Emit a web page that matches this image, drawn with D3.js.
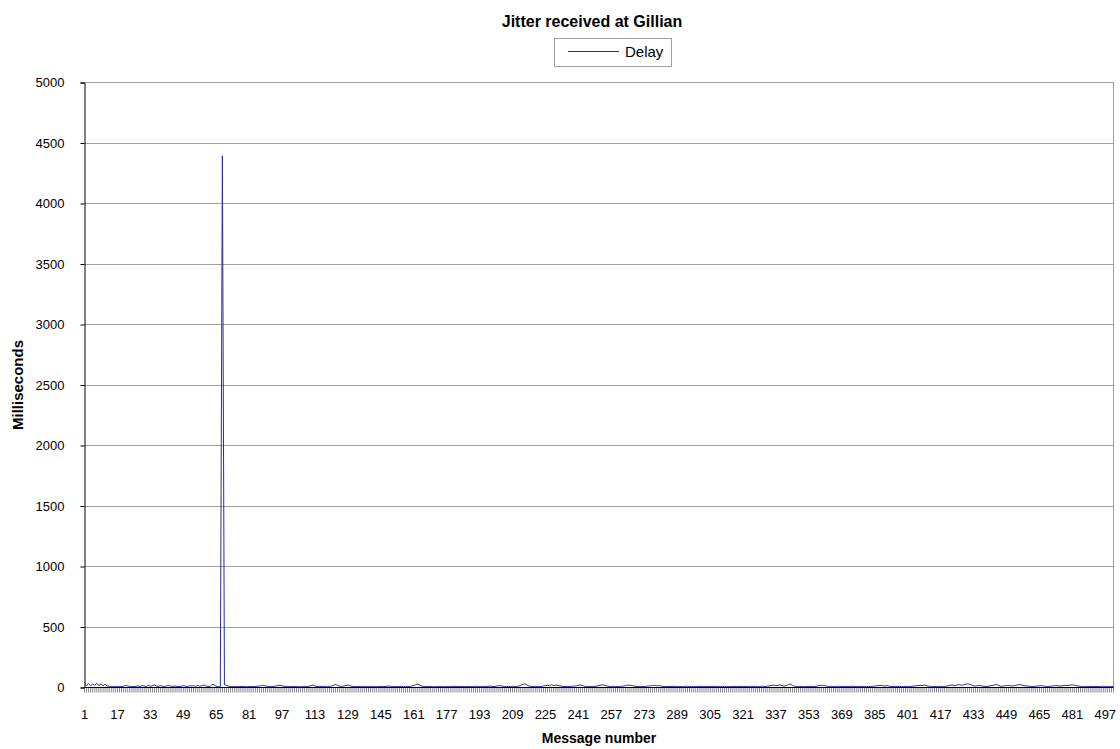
<!DOCTYPE html>
<html>
<head>
<meta charset="utf-8">
<script src="https://cdn.jsdelivr.net/npm/d3@7"></script>
<style>
  html, body { margin: 0; padding: 0; background: #fff; }
  svg { display: block; font-family: "Liberation Sans", Arial, sans-serif; }
</style>
</head>
<body>
<svg id="chart" width="1120" height="749"></svg>
<script>
const chartTitle = "Jitter received at Gillian";
const seriesName = "Delay";
const xTitle = "Message number";
const yTitle = "Milliseconds";
const yTicks = [0, 500, 1000, 1500, 2000, 2500, 3000, 3500, 4000, 4500, 5000];
const xLabelStep = 16;

const delay = [
  38, 12, 28, 10, 25, 14, 30, 12, 26, 10, 22, 8, 6, 4, 3, 4, 5, 3, 4, 6, 14, 8, 5, 4, 3,
  6, 10, 4, 12, 8, 5, 14, 6, 10, 16, 8, 5, 12, 6, 4, 10, 14, 6, 5, 8, 4, 3, 5, 12, 6,
  4, 10, 8, 12, 5, 14, 6, 10, 16, 8, 5, 4, 22, 18, 6, 3, 2, 4390, 18, 14, 6, 4, 3, 5, 4,
  3, 4, 5, 3, 2, 4, 3, 5, 4, 6, 8, 12, 14, 8, 5, 4, 3, 5, 8, 12, 14, 10, 6, 4, 3,
  4, 3, 5, 4, 3, 2, 4, 5, 3, 6, 10, 16, 8, 4, 3, 5, 4, 6, 3, 4, 8, 14, 22, 12, 6,
  4, 8, 12, 16, 10, 5, 4, 3, 5, 4, 3, 6, 4, 3, 5, 4, 3, 2, 4, 5, 3, 4, 6, 8, 5,
  4, 3, 5, 4, 6, 3, 4, 5, 3, 8, 12, 18, 26, 14, 6, 4, 3, 5, 4, 3, 2, 4, 3, 5, 4,
  3, 4, 5, 3, 4, 6, 4, 3, 5, 4, 3, 4, 5, 3, 4, 6, 5, 4, 3, 5, 4, 6, 8, 5, 4,
  6, 10, 12, 8, 4, 3, 5, 4, 6, 3, 4, 8, 14, 22, 26, 16, 8, 5, 4, 6, 3, 5, 4, 8, 12,
  14, 10, 18, 12, 16, 14, 10, 6, 4, 5, 3, 4, 6, 8, 10, 14, 16, 12, 6, 4, 5, 3, 4, 6, 8,
  12, 16, 18, 12, 8, 5, 4, 6, 3, 5, 4, 6, 8, 12, 16, 14, 12, 8, 5, 4, 3, 5, 4, 6, 8,
  10, 12, 14, 10, 12, 8, 5, 4, 3, 5, 4, 6, 3, 4, 5, 3, 4, 6, 5, 4, 3, 5, 4, 3, 6,
  4, 3, 5, 4, 3, 6, 4, 5, 3, 4, 6, 3, 5, 4, 3, 4, 5, 3, 6, 4, 3, 5, 4, 3, 6,
  4, 5, 3, 4, 6, 5, 4, 8, 10, 12, 16, 12, 14, 18, 10, 8, 12, 20, 24, 14, 6, 4, 3, 5, 4,
  3, 5, 4, 6, 3, 4, 8, 12, 14, 12, 10, 6, 4, 5, 3, 4, 6, 5, 3, 4, 5, 3, 4, 6, 5,
  4, 3, 5, 4, 6, 3, 5, 4, 6, 8, 10, 12, 14, 10, 8, 12, 6, 4, 3, 5, 4, 6, 3, 4, 5,
  3, 4, 6, 8, 10, 12, 14, 12, 16, 12, 8, 5, 4, 3, 5, 4, 6, 3, 4, 8, 12, 16, 14, 10, 18,
  20, 14, 18, 22, 26, 24, 16, 10, 8, 12, 14, 8, 5, 4, 6, 10, 12, 16, 22, 14, 8, 6, 10, 12, 14,
  10, 8, 12, 16, 20, 18, 14, 10, 8, 6, 5, 4, 6, 8, 10, 12, 8, 5, 4, 6, 8, 10, 12, 10, 8,
  10, 12, 14, 12, 16, 18, 14, 10, 8, 5, 4, 3, 5, 4, 6, 3, 4, 5, 3, 4, 6, 5, 4, 3, 5,
  4
];
const messages = delay.map((d, i) => i + 1);

const svg = d3.select("#chart");
const L = 84.5, R = 1113.5, T = 82, B = 687;

const x = d3.scaleLinear().domain([1, messages.length]).range([L, R]);
const y = d3.scaleLinear().domain([0, 5000]).range([B, T]);

// gridlines
svg.append("g")
  .selectAll("line").data(yTicks.filter(v => v > 0)).join("line")
  .attr("x1", L).attr("x2", R)
  .attr("y1", d => Math.round(y(d)) + 0.5).attr("y2", d => Math.round(y(d)) + 0.5)
  .attr("stroke", "#a0a0a0").attr("stroke-width", 1);

// right border
svg.append("line").attr("x1", R).attr("x2", R).attr("y1", T + 0.5).attr("y2", B)
  .attr("stroke", "#a0a0a0");

// y axis
const yAxis = d3.axisLeft(y).tickValues(yTicks).tickSize(4).tickPadding(16).tickFormat(d3.format("d"));
const gy = svg.append("g").attr("transform", `translate(${L},0.5)`).call(yAxis);
gy.select(".domain").attr("stroke", "#000");
gy.selectAll(".tick line").attr("stroke", "#000");
gy.selectAll("text").attr("font-size", 13).attr("fill", "#000")
  .attr("font-family", "'Liberation Sans', Arial, sans-serif");

// x axis (category ticks at every message)
const gx = svg.append("g").attr("transform", `translate(0,${B + 0.5})`);
gx.selectAll("line.tk").data(messages).join("line").attr("class", "tk")
  .attr("x1", d => x(d)).attr("x2", d => x(d)).attr("y1", 0).attr("y2", 5)
  .attr("stroke", "#555").attr("stroke-width", 0.7);
gx.append("line").attr("x1", L).attr("x2", R).attr("y1", 0).attr("y2", 0)
  .attr("stroke", "#000");
gx.selectAll("text").data(messages.filter(m => (m - 1) % xLabelStep === 0)).join("text")
  .attr("x", d => x(d)).attr("y", 31).attr("text-anchor", "middle")
  .attr("font-size", 13).attr("fill", "#000").text(d => d);

// series line
const line = d3.line().x((d, i) => x(messages[i])).y(d => y(d));
svg.append("path").datum(delay).attr("d", line)
  .attr("fill", "none").attr("stroke", "#2c2c9c").attr("stroke-width", 1);

// title
svg.append("text").attr("x", 592).attr("y", 27).attr("text-anchor", "middle")
  .attr("font-size", 16).attr("font-weight", "bold").text(chartTitle);

// legend
const lg = svg.append("g");
lg.append("rect").attr("x", 554.5).attr("y", 38.5).attr("width", 117).attr("height", 28)
  .attr("fill", "#fff").attr("stroke", "#a0a0a0");
lg.append("line").attr("x1", 568).attr("x2", 619).attr("y1", 51.5).attr("y2", 51.5)
  .attr("stroke", "#2c2c9c");
lg.append("text").attr("x", 625).attr("y", 57).attr("font-size", 15).text(seriesName);

// axis titles
svg.append("text").attr("x", 599).attr("y", 743).attr("text-anchor", "middle")
  .attr("font-size", 14).attr("font-weight", "bold").text(xTitle);
svg.append("text").attr("transform", "translate(23,385) rotate(-90)")
  .attr("text-anchor", "middle").attr("font-size", 15).attr("font-weight", "bold").text(yTitle);
</script>
</body>
</html>
